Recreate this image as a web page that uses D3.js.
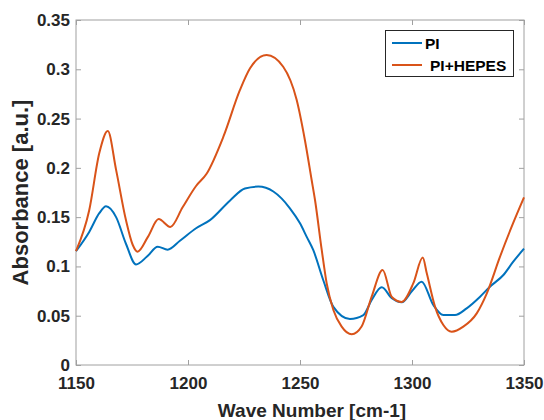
<!DOCTYPE html>
<html>
<head>
<meta charset="utf-8">
<script src="https://cdn.jsdelivr.net/npm/d3@7"></script>
<style>
  body { margin: 0; background: #fff; }
  svg { display: block; font-family: "Liberation Sans", Arial, sans-serif; }
</style>
</head>
<body>
<svg id="chart" width="544" height="420"></svg>
<script>
// Wave numbers and absorbance values
const piWave = [1150, 1155.9, 1160.4, 1163.4, 1167.9, 1172.3, 1176.8, 1181.7, 1186.5, 1190.9, 1196.4, 1203.6, 1209.8, 1218.8, 1225.4, 1231.4, 1238.1, 1245.5, 1250, 1253, 1255.9, 1260.4, 1264.9, 1272.3, 1278.3, 1282, 1286.5, 1291, 1295.4, 1300, 1304.3, 1309.5, 1314, 1319.2, 1324.4, 1330.4, 1334.8, 1340.8, 1345.2, 1350];
const piValues = [0.1155, 0.135, 0.154, 0.161, 0.150, 0.123, 0.102, 0.110, 0.120, 0.117, 0.126, 0.1387, 0.147, 0.167, 0.179, 0.181, 0.176, 0.159, 0.1437, 0.130, 0.1167, 0.086, 0.059, 0.0467, 0.0507, 0.066, 0.0788, 0.0677, 0.0636, 0.075, 0.0845, 0.0609, 0.0507, 0.0507, 0.0575, 0.0693, 0.0794, 0.0913, 0.1048, 0.118];

const hepesWave = [1150, 1155.9, 1160.4, 1164.2, 1167.9, 1172.3, 1175.3, 1177.5, 1182.1, 1186.9, 1192.1, 1197.6, 1203.6, 1208.3, 1215.8, 1223.2, 1227.7, 1235.1, 1242.5, 1248.5, 1252.2, 1255.2, 1256.7, 1259.7, 1261.9, 1264.9, 1268.6, 1273.1, 1277.5, 1282, 1286.9, 1291, 1295.4, 1300.6, 1304.8, 1306.6, 1310.3, 1314, 1317.7, 1322.9, 1328.9, 1333.4, 1339.3, 1344.5, 1350];
const hepesValues = [0.1155, 0.157, 0.215, 0.2374, 0.198, 0.147, 0.122, 0.115, 0.130, 0.148, 0.140, 0.160, 0.1816, 0.194, 0.2316, 0.279, 0.301, 0.3145, 0.3026, 0.269, 0.228, 0.1877, 0.1674, 0.1167, 0.0829, 0.0558, 0.0389, 0.0311, 0.039, 0.0693, 0.0964, 0.069, 0.064, 0.083, 0.109, 0.093, 0.059, 0.0406, 0.0338, 0.0389, 0.0524, 0.0727, 0.1099, 0.1403, 0.170];

const xTicks = [1150, 1200, 1250, 1300, 1350];
const xTickLabels = ["1150", "1200", "1250", "1300", "1350"];
const yTicks = [0, 0.05, 0.1, 0.15, 0.2, 0.25, 0.3, 0.35];
const yTickLabels = ["0", "0.05", "0.1", "0.15", "0.2", "0.25", "0.3", "0.35"];
const seriesNames = ["PI", "PI+HEPES"];
const seriesColors = ["#0072BD", "#D95319"];

const svg = d3.select("#chart");
const L = 76, R = 524, T = 20, B = 365;
const x = d3.scaleLinear().domain([1150, 1350]).range([L, R]);
const y = d3.scaleLinear().domain([0, 0.35]).range([B, T]);

const textColor = "#262626";
const axisColor = "#a0a0a0";
const fontFam = "'Liberation Sans', Arial, sans-serif";

// axes box
svg.append("rect").attr("x", L).attr("y", T).attr("width", R - L).attr("height", B - T)
  .attr("fill", "none").attr("stroke", axisColor).attr("stroke-width", 1);

// bottom axis
const xAxis = d3.axisBottom(x).tickValues(xTicks).tickFormat((d, i) => xTickLabels[i]).tickSizeInner(-5).tickSizeOuter(0).tickPadding(12);
const gx = svg.append("g").attr("transform", `translate(0,${B})`).call(xAxis);
gx.select(".domain").remove();
gx.selectAll(".tick line").attr("stroke", axisColor);
gx.selectAll(".tick text").attr("fill", textColor).style("font-size", "17px").style("font-weight", "bold")
  .style("font-family", fontFam);

// top ticks
const gxt = svg.append("g").attr("transform", `translate(0,${T})`)
  .call(d3.axisTop(x).tickValues(xTicks).tickFormat("").tickSizeInner(-5).tickSizeOuter(0));
gxt.select(".domain").remove();
gxt.selectAll(".tick line").attr("stroke", axisColor);

// left axis
const yAxis = d3.axisLeft(y).tickValues(yTicks).tickFormat((d, i) => yTickLabels[i]).tickSizeInner(-5).tickSizeOuter(0).tickPadding(6);
const gy = svg.append("g").attr("transform", `translate(${L},0)`).call(yAxis);
gy.select(".domain").remove();
gy.selectAll(".tick line").attr("stroke", axisColor);
gy.selectAll(".tick text").attr("fill", textColor).style("font-size", "17px").style("font-weight", "bold")
  .style("font-family", fontFam);

// right ticks
const gyr = svg.append("g").attr("transform", `translate(${R},0)`)
  .call(d3.axisRight(y).tickValues(yTicks).tickFormat("").tickSizeInner(-5).tickSizeOuter(0));
gyr.select(".domain").remove();
gyr.selectAll(".tick line").attr("stroke", axisColor);

// lines
const line = d3.line().x(d => x(d[0])).y(d => y(d[1])).curve(d3.curveMonotoneX);
const seriesData = [
  d3.zip(piWave, piValues),
  d3.zip(hepesWave, hepesValues)
];
seriesData.forEach((data, i) => {
  svg.append("path").datum(data).attr("d", line)
    .attr("fill", "none").attr("stroke", seriesColors[i]).attr("stroke-width", 2)
    .attr("stroke-linejoin", "round");
});

// axis titles
svg.append("text").attr("x", 312).attr("y", 417).attr("text-anchor", "middle")
  .attr("fill", textColor).style("font-size", "19px").style("font-weight", "bold")
  .text("Wave Number [cm-1]");
svg.append("text").attr("transform", `translate(28,${(T + B) / 2}) rotate(-90)`).attr("text-anchor", "middle")
  .attr("fill", textColor).style("font-size", "22px").style("font-weight", "bold")
  .text("Absorbance [a.u.]");

// legend
const lg = svg.append("g");
lg.append("rect").attr("x", 385.5).attr("y", 30.5).attr("width", 128).attr("height", 46)
  .attr("fill", "#fff").attr("stroke", textColor).attr("stroke-width", 1);
const legendY = [43, 65];
const legendTextX = [425, 430];
seriesNames.forEach((name, i) => {
  lg.append("line").attr("x1", 392).attr("x2", 422).attr("y1", legendY[i]).attr("y2", legendY[i])
    .attr("stroke", seriesColors[i]).attr("stroke-width", 2);
  lg.append("text").attr("x", legendTextX[i]).attr("y", legendY[i]).attr("dy", "0.36em")
    .attr("fill", "#000").style("font-size", "15.5px").style("font-weight", "bold").text(name);
});
</script>
</body>
</html>
